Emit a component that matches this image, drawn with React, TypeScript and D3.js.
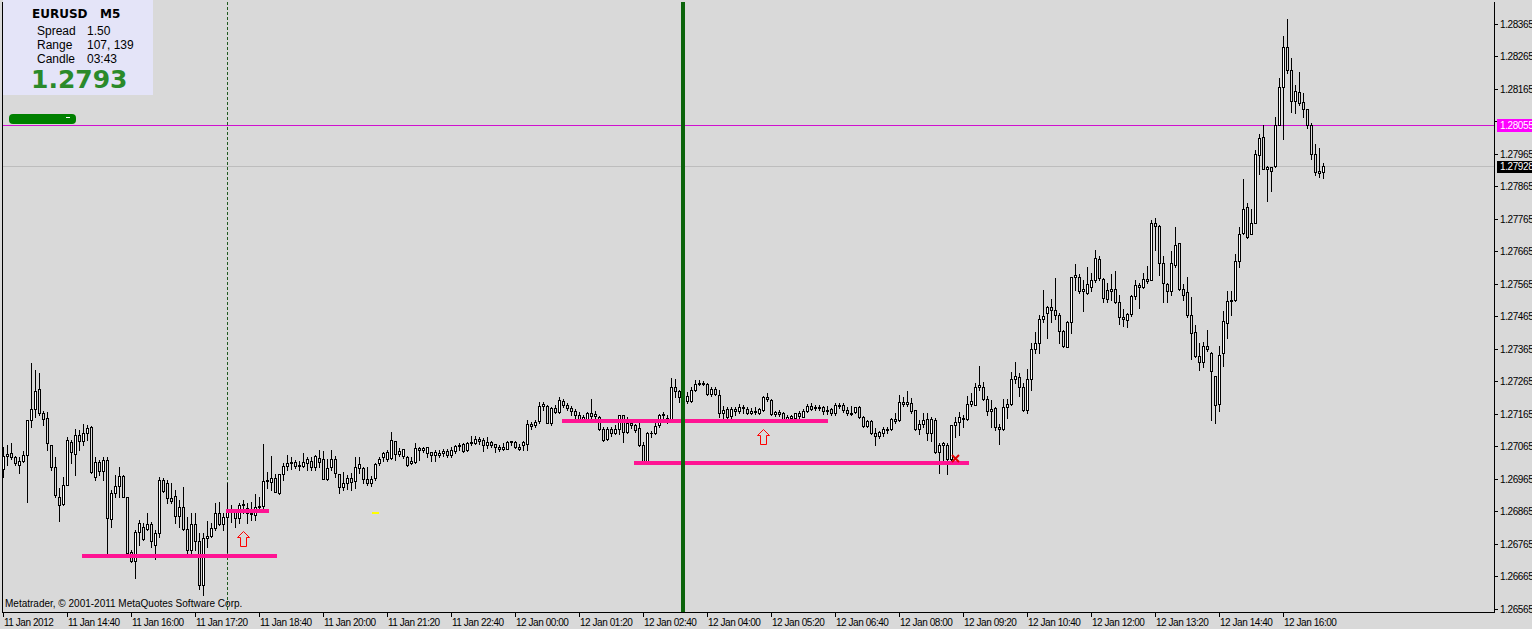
import React from "react";
import * as d3 from "d3";

type Bar = [number, number, number, number]; // open, high, low, close

// EURUSD M5 candles, 11 Jan 2012 13:20 onward
const ohlc: Bar[] = [
  [1.26995,1.27063,1.26971,1.27036],[1.27036,1.27069,1.27009,1.27042],[1.27045,1.27075,1.27027,1.27033],[1.27033,1.27036,1.27009,1.27015],
  [1.27009,1.27033,1.26983,1.27021],[1.27021,1.27051,1.27018,1.27039],[1.27039,1.27147,1.26894,1.27147],[1.27147,1.27322,1.27126,1.27180],
  [1.27180,1.27301,1.27156,1.27236],[1.27242,1.27292,1.27162,1.27168],[1.27168,1.27174,1.27132,1.27150],[1.27153,1.27171,1.27054,1.27075],
  [1.27069,1.27069,1.26992,1.27001],[1.27001,1.27033,1.26909,1.26917],[1.26909,1.26938,1.26837,1.26885],[1.26888,1.26971,1.26885,1.26947],
  [1.26947,1.27093,1.26947,1.27084],[1.27078,1.27084,1.27015,1.27048],[1.27042,1.27120,1.26977,1.27099],[1.27099,1.27117,1.27054,1.27081],
  [1.27081,1.27135,1.27069,1.27105],[1.27105,1.27132,1.27084,1.27123],[1.27126,1.27129,1.26983,1.26986],[1.26971,1.27033,1.26962,1.27018],
  [1.27018,1.27024,1.26977,1.26989],[1.26989,1.27033,1.26962,1.27024],[1.27024,1.27033,1.26738,1.26846],[1.26843,1.26932,1.26816,1.26923],
  [1.26923,1.26977,1.26909,1.26944],[1.26944,1.27001,1.26909,1.26974],[1.26974,1.26977,1.26909,1.26909],[1.26909,1.26909,1.26724,1.26738],
  [1.26741,1.26747,1.26709,1.26712],[1.26712,1.26807,1.26661,1.26801],[1.26801,1.26840,1.26762,1.26831],[1.26816,1.26831,1.26777,1.26780],
  [1.26810,1.26861,1.26807,1.26825],[1.26825,1.26834,1.26756,1.26774],[1.26762,1.26807,1.26718,1.26798],[1.26798,1.26971,1.26786,1.26962],
  [1.26962,1.26968,1.26926,1.26929],[1.26953,1.26962,1.26891,1.26906],[1.26906,1.26953,1.26891,1.26897],[1.26912,1.26932,1.26831,1.26852],
  [1.26852,1.26900,1.26816,1.26879],[1.26879,1.26941,1.26807,1.26810],[1.26810,1.26849,1.26732,1.26747],[1.26747,1.26861,1.26732,1.26828],
  [1.26828,1.26861,1.26747,1.26774],[1.26774,1.26798,1.26626,1.26638],[1.26638,1.26798,1.26608,1.26783],[1.26783,1.26837,1.26756,1.26789],
  [1.26789,1.26831,1.26786,1.26813],[1.26813,1.26891,1.26807,1.26861],[1.26861,1.26894,1.26822,1.26825],[1.26825,1.26861,1.26807,1.26849],
  [1.26849,1.26953,1.26741,1.26873],[1.26873,1.26885,1.26834,1.26864],[1.26864,1.26870,1.26816,1.26846],[1.26846,1.26891,1.26831,1.26885],
  [1.26885,1.26900,1.26861,1.26888],[1.26876,1.26891,1.26831,1.26861],[1.26861,1.26894,1.26840,1.26858],[1.26855,1.26918,1.26840,1.26879],
  [1.26879,1.26909,1.26870,1.26882],[1.26882,1.27072,1.26876,1.26959],[1.26959,1.26986,1.26938,1.26962],[1.26956,1.27036,1.26932,1.26968],
  [1.26968,1.26980,1.26926,1.26926],[1.26923,1.26980,1.26920,1.26980],[1.26980,1.27015,1.26962,1.27004],[1.27004,1.27039,1.26992,1.27015],
  [1.27015,1.27033,1.26995,1.27018],[1.27018,1.27024,1.26998,1.27004],[1.27004,1.27021,1.26992,1.27007],[1.27004,1.27045,1.27001,1.27018],
  [1.27015,1.27033,1.26992,1.27027],[1.27021,1.27033,1.26992,1.27001],[1.27001,1.27039,1.26992,1.27036],[1.27030,1.27054,1.27001,1.27018],
  [1.27027,1.27051,1.26965,1.26965],[1.26965,1.27027,1.26962,1.26998],[1.27001,1.27054,1.26992,1.27027],[1.27027,1.27036,1.26971,1.26983],
  [1.26980,1.26980,1.26923,1.26941],[1.26941,1.26986,1.26932,1.26953],[1.26953,1.26977,1.26935,1.26968],[1.26968,1.26983,1.26932,1.26956],
  [1.26959,1.27033,1.26938,1.27001],[1.26998,1.27033,1.26983,1.27012],[1.26998,1.27001,1.26953,1.26965],[1.26965,1.27001,1.26947,1.26953],
  [1.26953,1.26974,1.26944,1.26965],[1.26968,1.27015,1.26962,1.27012],[1.27015,1.27033,1.27009,1.27027],[1.27033,1.27048,1.27021,1.27045],
  [1.27027,1.27054,1.27021,1.27048],[1.27030,1.27111,1.27027,1.27084],[1.27081,1.27081,1.27024,1.27042],[1.27042,1.27060,1.27036,1.27051],
  [1.27036,1.27057,1.27030,1.27057],[1.27033,1.27036,1.27006,1.27009],[1.27015,1.27033,1.27012,1.27021],[1.27018,1.27075,1.27015,1.27060],
  [1.27060,1.27063,1.27024,1.27054],[1.27054,1.27063,1.27048,1.27060],[1.27045,1.27063,1.27033,1.27063],[1.27048,1.27048,1.27021,1.27039],
  [1.27039,1.27054,1.27021,1.27048],[1.27039,1.27054,1.27033,1.27045],[1.27045,1.27057,1.27036,1.27051],[1.27051,1.27057,1.27033,1.27039],
  [1.27039,1.27063,1.27033,1.27054],[1.27051,1.27069,1.27045,1.27066],[1.27066,1.27075,1.27054,1.27069],[1.27072,1.27075,1.27048,1.27051],
  [1.27054,1.27078,1.27051,1.27075],[1.27075,1.27096,1.27069,1.27078],[1.27075,1.27096,1.27072,1.27087],[1.27087,1.27093,1.27072,1.27081],
  [1.27084,1.27090,1.27051,1.27069],[1.27069,1.27093,1.27060,1.27078],[1.27078,1.27081,1.27063,1.27069],[1.27072,1.27072,1.27048,1.27063],
  [1.27063,1.27069,1.27051,1.27057],[1.27057,1.27075,1.27054,1.27063],[1.27057,1.27081,1.27057,1.27078],[1.27078,1.27081,1.27069,1.27081],
  [1.27078,1.27081,1.27060,1.27063],[1.27063,1.27072,1.27054,1.27057],[1.27069,1.27081,1.27054,1.27078],[1.27072,1.27147,1.27054,1.27135],
  [1.27135,1.27141,1.27120,1.27129],[1.27132,1.27147,1.27126,1.27141],[1.27144,1.27203,1.27138,1.27189],[1.27189,1.27203,1.27177,1.27195],
  [1.27189,1.27192,1.27138,1.27138],[1.27138,1.27186,1.27132,1.27183],[1.27183,1.27192,1.27168,1.27171],[1.27171,1.27218,1.27168,1.27208],
  [1.27205,1.27211,1.27186,1.27192],[1.27192,1.27198,1.27177,1.27183],[1.27183,1.27189,1.27162,1.27174],[1.27174,1.27180,1.27147,1.27162],
  [1.27162,1.27171,1.27147,1.27150],[1.27150,1.27162,1.27141,1.27156],[1.27150,1.27171,1.27147,1.27168],[1.27168,1.27211,1.27147,1.27159],
  [1.27159,1.27174,1.27144,1.27165],[1.27156,1.27159,1.27117,1.27120],[1.27120,1.27126,1.27081,1.27084],[1.27087,1.27126,1.27084,1.27120],
  [1.27120,1.27126,1.27096,1.27105],[1.27105,1.27132,1.27102,1.27120],[1.27120,1.27162,1.27102,1.27162],[1.27162,1.27162,1.27078,1.27111],
  [1.27111,1.27156,1.27108,1.27138],[1.27138,1.27141,1.27123,1.27132],[1.27132,1.27135,1.27111,1.27117],[1.27123,1.27138,1.27066,1.27069],
  [1.27069,1.27078,1.27018,1.27018],[1.27018,1.27111,1.27018,1.27105],[1.27105,1.27114,1.27093,1.27108],[1.27108,1.27138,1.27102,1.27129],
  [1.27132,1.27165,1.27126,1.27162],[1.27162,1.27171,1.27147,1.27165],[1.27153,1.27162,1.27138,1.27147],[1.27150,1.27275,1.27147,1.27248],
  [1.27248,1.27272,1.27218,1.27236],[1.27236,1.27239,1.27203,1.27218],[1.27218,1.27230,1.27195,1.27205],[1.27205,1.27233,1.27198,1.27221],
  [1.27205,1.27248,1.27203,1.27239],[1.27239,1.27269,1.27236,1.27257],[1.27257,1.27269,1.27254,1.27260],[1.27260,1.27266,1.27254,1.27257],
  [1.27257,1.27260,1.27224,1.27227],[1.27227,1.27248,1.27221,1.27242],[1.27242,1.27248,1.27224,1.27227],[1.27224,1.27239,1.27156,1.27168],
  [1.27168,1.27189,1.27147,1.27177],[1.27180,1.27186,1.27144,1.27156],[1.27159,1.27186,1.27147,1.27180],[1.27180,1.27186,1.27162,1.27174],
  [1.27174,1.27195,1.27168,1.27186],[1.27186,1.27192,1.27168,1.27183],[1.27180,1.27186,1.27165,1.27168],[1.27168,1.27183,1.27165,1.27174],
  [1.27174,1.27186,1.27165,1.27171],[1.27168,1.27183,1.27165,1.27180],[1.27177,1.27221,1.27174,1.27218],[1.27218,1.27230,1.27205,1.27211],
  [1.27208,1.27211,1.27162,1.27165],[1.27165,1.27174,1.27159,1.27171],[1.27171,1.27177,1.27159,1.27165],[1.27168,1.27171,1.27144,1.27147],
  [1.27147,1.27162,1.27147,1.27156],[1.27153,1.27162,1.27147,1.27159],[1.27153,1.27168,1.27150,1.27168],[1.27168,1.27174,1.27153,1.27159],
  [1.27156,1.27180,1.27156,1.27174],[1.27174,1.27195,1.27171,1.27189],[1.27189,1.27198,1.27177,1.27180],[1.27183,1.27192,1.27177,1.27186],
  [1.27186,1.27192,1.27177,1.27183],[1.27186,1.27189,1.27165,1.27174],[1.27174,1.27189,1.27165,1.27177],[1.27180,1.27183,1.27162,1.27168],
  [1.27168,1.27198,1.27162,1.27192],[1.27192,1.27198,1.27183,1.27189],[1.27192,1.27198,1.27171,1.27177],[1.27177,1.27186,1.27162,1.27168],
  [1.27168,1.27189,1.27162,1.27165],[1.27171,1.27186,1.27168,1.27186],[1.27186,1.27189,1.27153,1.27156],[1.27156,1.27159,1.27126,1.27129],
  [1.27129,1.27147,1.27126,1.27144],[1.27144,1.27147,1.27102,1.27108],[1.27108,1.27123,1.27069,1.27096],[1.27096,1.27114,1.27090,1.27111],
  [1.27108,1.27126,1.27096,1.27120],[1.27120,1.27126,1.27108,1.27117],[1.27120,1.27153,1.27117,1.27150],[1.27150,1.27168,1.27138,1.27144],
  [1.27147,1.27224,1.27144,1.27203],[1.27203,1.27218,1.27189,1.27195],[1.27195,1.27236,1.27189,1.27203],[1.27198,1.27215,1.27168,1.27174],
  [1.27177,1.27177,1.27117,1.27120],[1.27120,1.27147,1.27102,1.27135],[1.27135,1.27168,1.27126,1.27147],[1.27150,1.27168,1.27084,1.27108],
  [1.27108,1.27156,1.27081,1.27150],[1.27147,1.27153,1.27045,1.27048],[1.27048,1.27075,1.26983,1.27069],[1.27069,1.27078,1.27024,1.27075],
  [1.27069,1.27075,1.26980,1.27027],[1.27027,1.27132,1.27024,1.27132],[1.27132,1.27156,1.27093,1.27141],[1.27141,1.27171,1.27099,1.27156],
  [1.27153,1.27162,1.27126,1.27150],[1.27150,1.27221,1.27147,1.27195],[1.27195,1.27230,1.27189,1.27205],[1.27192,1.27260,1.27192,1.27248],
  [1.27248,1.27312,1.27239,1.27254],[1.27248,1.27263,1.27208,1.27212],[1.27212,1.27221,1.27162,1.27174],[1.27174,1.27208,1.27126,1.27180],
  [1.27183,1.27186,1.27117,1.27126],[1.27126,1.27135,1.27072,1.27120],[1.27120,1.27211,1.27117,1.27186],[1.27186,1.27211,1.27153,1.27195],
  [1.27195,1.27295,1.27192,1.27272],[1.27272,1.27325,1.27260,1.27282],[1.27278,1.27292,1.27221,1.27248],[1.27248,1.27260,1.27174,1.27177],
  [1.27177,1.27304,1.27168,1.27272],[1.27272,1.27383,1.27239,1.27364],[1.27364,1.27417,1.27352,1.27383],[1.27383,1.27469,1.27352,1.27457],
  [1.27457,1.27547,1.27448,1.27466],[1.27475,1.27498,1.27399,1.27495],[1.27495,1.27519,1.27448,1.27485],[1.27485,1.27584,1.27457,1.27470],
  [1.27470,1.27476,1.27383,1.27421],[1.27421,1.27424,1.27370,1.27373],[1.27370,1.27451,1.27370,1.27448],[1.27448,1.27587,1.27414,1.27587],
  [1.27587,1.27626,1.27547,1.27593],[1.27587,1.27596,1.27537,1.27543],[1.27543,1.27578,1.27483,1.27550],[1.27537,1.27617,1.27534,1.27566],
  [1.27556,1.27599,1.27543,1.27578],[1.27578,1.27670,1.27572,1.27644],[1.27641,1.27650,1.27578,1.27584],[1.27581,1.27584,1.27510,1.27522],
  [1.27546,1.27568,1.27510,1.27519],[1.27543,1.27596,1.27516,1.27549],[1.27549,1.27605,1.27507,1.27510],[1.27510,1.27531,1.27442,1.27463],
  [1.27463,1.27488,1.27436,1.27457],[1.27454,1.27476,1.27433,1.27472],[1.27472,1.27531,1.27466,1.27528],[1.27528,1.27578,1.27519,1.27563],
  [1.27563,1.27569,1.27491,1.27556],[1.27556,1.27599,1.27553,1.27581],[1.27581,1.27620,1.27569,1.27575],[1.27578,1.27763,1.27578,1.27754],
  [1.27754,1.27769,1.27670,1.27742],[1.27742,1.27748,1.27593,1.27629],[1.27629,1.27650,1.27510,1.27569],[1.27566,1.27569,1.27510,1.27543],
  [1.27543,1.27667,1.27531,1.27629],[1.27623,1.27739,1.27617,1.27685],[1.27691,1.27691,1.27546,1.27549],[1.27549,1.27566,1.27516,1.27531],
  [1.27540,1.27587,1.27463,1.27469],[1.27469,1.27525,1.27334,1.27415],[1.27418,1.27439,1.27340,1.27343],[1.27343,1.27383,1.27300,1.27325],
  [1.27325,1.27386,1.27309,1.27373],[1.27373,1.27424,1.27358,1.27364],[1.27352,1.27355,1.27147,1.27298],[1.27283,1.27283,1.27138,1.27194],
  [1.27197,1.27373,1.27174,1.27346],[1.27352,1.27483,1.27313,1.27451],[1.27445,1.27543,1.27400,1.27513],[1.27513,1.27543,1.27470,1.27516],
  [1.27516,1.27656,1.27513,1.27635],[1.27635,1.27739,1.27617,1.27718],[1.27721,1.27888,1.27718,1.27796],[1.27802,1.27814,1.27706,1.27709],
  [1.27718,1.27796,1.27718,1.27754],[1.27754,1.27977,1.27754,1.27965],[1.27962,1.28025,1.27903,1.28013],[1.28016,1.28055,1.27918,1.27918],
  [1.27918,1.27928,1.27820,1.27924],[1.27924,1.27924,1.27851,1.27912],[1.27927,1.28079,1.27924,1.28055],[1.28055,1.28198,1.28055,1.28171],
  [1.28171,1.28329,1.28010,1.28294],[1.28294,1.28380,1.28213,1.28222],[1.28222,1.28261,1.28094,1.28129],[1.28129,1.28178,1.28091,1.28160],
  [1.28156,1.28216,1.28117,1.28122],[1.28126,1.28153,1.28079,1.28103],[1.28103,1.28103,1.28046,1.28055],[1.28055,1.28061,1.27950,1.27965],
  [1.27965,1.27995,1.27900,1.27909],[1.27912,1.27983,1.27894,1.27906],[1.27909,1.27937,1.27891,1.27928],
];

const priceTicks = [
  1.26565, 1.26665, 1.26765, 1.26865, 1.26965, 1.27065, 1.27165, 1.27265, 1.27365, 1.27465,
  1.27565, 1.27665, 1.27765, 1.27865, 1.27965, 1.28065, 1.28165, 1.28265, 1.28365,
];

const timeLabels = [
  "11 Jan 2012", "11 Jan 14:40", "11 Jan 16:00", "11 Jan 17:20", "11 Jan 18:40", "11 Jan 20:00",
  "11 Jan 21:20", "11 Jan 22:40", "12 Jan 00:00", "12 Jan 01:20", "12 Jan 02:40", "12 Jan 04:00",
  "12 Jan 05:20", "12 Jan 06:40", "12 Jan 08:00", "12 Jan 09:20", "12 Jan 10:40", "12 Jan 12:00",
  "12 Jan 13:20", "12 Jan 14:40", "12 Jan 16:00",
];
const timeLabelBars = [0, 16, 32, 48, 64, 80, 96, 112, 128, 144, 160, 176, 192, 208, 224, 240, 256, 272, 288, 304, 320];

// horizontal support / resistance segments (price, from bar, to bar)
const levelPrices = [1.26727, 1.26865, 1.27142, 1.27013];
const levelFrom = [19.75, 55.75, 139.75, 157.75];
const levelTo = [68.5, 66.5, 206.25, 241.5];

const arrowBars = [60, 190];
const arrowPrices = [1.26804, 1.2712];
const crossBar = 238;
const crossPrice = 1.2703;
const yellowBar = 93.1;
const yellowPrice = 1.26862;
const dashedLineBar = 56.1;
const greenLineBar = 170;
const bidPrice = 1.27928;
const alertPrice = 1.28055;

const symbol = "EURUSD";
const timeframe = "M5";
const spreadText = "1.50";
const rangeText = "107, 139";
const candleText = "03:43";
const lastPriceText = "1.2793";

const W = 1532;
const H = 629;
const BG = "#d9d9d9";
const FONT = "'Liberation Sans', Arial, sans-serif";

export default function App() {
  const x = d3.scaleLinear().domain([0, ohlc.length - 1]).range([3, 3 + 4 * (ohlc.length - 1)]);
  const y = d3.scaleLinear().domain([1.26565, 1.28365]).range([609, 24]);
  const L = 2, R = 1494, T = 2, B = 612;
  const py = (p: number) => Math.round(y(p));

  const candles = ohlc.map((d, i) => {
    const [o, h, l, c] = d;
    const cx = Math.round(x(i));
    const yo = py(o), yc = py(c), yh = py(h), yl = py(l);
    const top = Math.min(yo, yc), bot = Math.max(yo, yc);
    const bull = c >= o;
    return (
      <g key={i}>
        <line x1={cx + 0.5} x2={cx + 0.5} y1={Math.min(yh, top)} y2={Math.max(yl, bot) + 1} stroke="#000" strokeWidth={1} />
        {bot - top < 1 ? (
          <line x1={cx - 1} x2={cx + 2} y1={top + 0.5} y2={top + 0.5} stroke="#000" strokeWidth={1} />
        ) : (
          <rect x={cx - 0.5} y={top + 0.5} width={2} height={bot - top} fill={bull ? "#ffffff" : BG} stroke="#000" strokeWidth={1} />
        )}
      </g>
    );
  });

  const arrowPath = (cx: number, yt: number) =>
    `M${cx + 0.5},${yt + 0.5} L${cx + 6.5},${yt + 6.5} L${cx + 3.5},${yt + 6.5} L${cx + 3.5},${yt + 15.5} L${cx - 2.5},${yt + 15.5} L${cx - 2.5},${yt + 6.5} L${cx - 5.5},${yt + 6.5} Z`;

  const cxC = Math.round(x(crossBar));
  const cyC = py(crossPrice);
  const alertY = py(alertPrice);
  // axis labels hidden beneath the alert price box are not drawn (as in the terminal)
  const visibleTicks = priceTicks.filter((p) => Math.abs(py(p) - alertY) > 8);

  return (
    <svg width={W} height={H} style={{ position: "absolute", left: 0, top: 0, display: "block" }} fontFamily={FONT}>
      <rect x={0} y={0} width={W} height={H} fill={BG} />

      {/* horizontal price lines */}
      <line x1={L} x2={R} y1={py(bidPrice) + 0.5} y2={py(bidPrice) + 0.5} stroke="#bdbdbd" strokeWidth={1} />
      <line x1={L} x2={R} y1={alertY + 0.5} y2={alertY + 0.5} stroke="#d010d0" strokeWidth={1} />

      {/* dashed vertical */}
      <line x1={Math.round(x(dashedLineBar)) + 0.5} x2={Math.round(x(dashedLineBar)) + 0.5} y1={T} y2={B}
        stroke="#1e5a1e" strokeWidth={1} strokeDasharray="3,2" />

      {candles}

      {/* levels */}
      {levelPrices.map((p, i) => (
        <line key={i} x1={Math.round(x(levelFrom[i]))} x2={Math.round(x(levelTo[i]))} y1={py(p)} y2={py(p)}
          stroke="#ff1493" strokeWidth={4} />
      ))}

      {/* thick green vertical */}
      <rect x={Math.round(x(greenLineBar)) - 2} y={T} width={4} height={B - T} fill="#0b640b" />

      {/* arrows */}
      {arrowBars.map((b, i) => (
        <path key={i} d={arrowPath(Math.round(x(b)), py(arrowPrices[i]))} fill="none" stroke="#ff0000" strokeWidth={1} />
      ))}

      {/* cross mark */}
      <g stroke="#e00000" strokeWidth={2}>
        <line x1={cxC - 3} y1={cyC - 3} x2={cxC + 4} y2={cyC + 4} />
        <line x1={cxC - 3} y1={cyC + 4} x2={cxC + 4} y2={cyC - 3} />
      </g>

      {/* yellow mark */}
      <rect x={Math.round(x(yellowBar)) - 3} y={py(yellowPrice)} width={7} height={2} fill="#ffff00" />

      {/* watermark */}
      <text x={5} y={607} fontSize={10} fill="#000">Metatrader, © 2001-2011 MetaQuotes Software Corp.</text>

      {/* frame */}
      <g stroke="#000" strokeWidth={1} fill="none">
        <line x1={L + 0.5} x2={L + 0.5} y1={T} y2={B + 1} />
        <line x1={R + 0.5} x2={R + 0.5} y1={T} y2={B + 1} />
        <line x1={L} x2={R + 1} y1={B + 0.5} y2={B + 0.5} />
      </g>

      {/* right price axis */}
      {priceTicks.map((p, i) => (
        <line key={i} x1={R + 1} x2={R + 4} y1={py(p) + 0.5} y2={py(p) + 0.5} stroke="#000" />
      ))}
      {visibleTicks.map((p, i) => (
        <text key={i} x={1500} y={py(p) + 4} fontSize={10} letterSpacing={-0.4} fill="#000">{p.toFixed(5)}</text>
      ))}
      <rect x={1497} y={alertY - 6} width={35} height={13} fill="#ff00ff" />
      <text x={1500} y={alertY + 4} fontSize={10} letterSpacing={-0.4} fill="#fff">{alertPrice.toFixed(5)}</text>
      <rect x={1497} y={py(bidPrice) - 5} width={35} height={12} fill="#000" />
      <text x={1500} y={py(bidPrice) + 4} fontSize={10} letterSpacing={-0.4} fill="#fff">{bidPrice.toFixed(5)}</text>

      {/* bottom time axis */}
      {timeLabels.map((t, i) => {
        const tx = Math.round(x(timeLabelBars[i]));
        return (
          <g key={i}>
            <line x1={tx + 0.5} x2={tx + 0.5} y1={B + 1} y2={B + 5} stroke="#000" />
            <text x={tx + 1} y={626} fontSize={10} letterSpacing={-0.45} fill="#000">{t}</text>
          </g>
        );
      })}

      {/* info panel */}
      <rect x={3} y={0} width={150} height={95} fill="#e4e4f8" />
      <text x={32} y={18} fontSize={12} fontWeight="bold" fontFamily="'DejaVu Sans', sans-serif" fill="#000">{symbol}</text>
      <text x={100} y={18} fontSize={12} fontWeight="bold" fontFamily="'DejaVu Sans', sans-serif" fill="#000">{timeframe}</text>
      <text x={37} y={35} fontSize={12} fill="#000">Spread</text>
      <text x={87} y={35} fontSize={12} fill="#000">{spreadText}</text>
      <text x={37} y={49} fontSize={12} fill="#000">Range</text>
      <text x={87} y={49} fontSize={12} fill="#000">{rangeText}</text>
      <text x={37} y={63} fontSize={12} fill="#000">Candle</text>
      <text x={87} y={63} fontSize={12} fill="#000">{candleText}</text>
      <text x={31} y={88} fontSize={25} fontWeight="bold" fontFamily="'DejaVu Sans', sans-serif" fill="#2a8a2a">{lastPriceText}</text>

      {/* green label blob */}
      <rect x={9} y={114} width={67} height={10} rx={4} fill="#008000" />
      <line x1={66} x2={70} y1={117.5} y2={117.5} stroke="#ffffff" strokeWidth={1} />
    </svg>
  );
}
